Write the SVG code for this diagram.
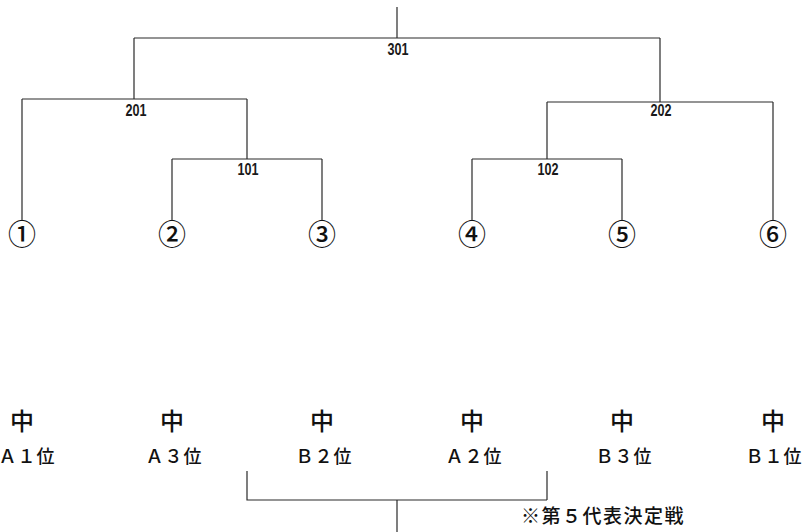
<svg xmlns="http://www.w3.org/2000/svg" width="805" height="532" viewBox="0 0 805 532">
<style>
.ln{stroke:#2a2a2a;stroke-width:1.2;fill:none}
.num{font-family:"Liberation Sans",Arial,sans-serif;font-size:16px;font-weight:bold;fill:#1a1a1a;text-anchor:middle}
.circ{font-family:"Noto Sans CJK JP",sans-serif;font-size:28px;font-weight:500;fill:#111;text-anchor:middle}
.naka{font-family:"Noto Sans CJK JP",sans-serif;font-size:24px;font-weight:500;fill:#111;text-anchor:middle}
.lab{font-family:"Noto Sans CJK JP",sans-serif;font-size:18px;font-weight:500;fill:#111;text-anchor:middle;letter-spacing:1px}
.note{font-family:"Noto Sans CJK JP",sans-serif;font-size:19px;font-weight:500;fill:#111;letter-spacing:1.5px}
</style>
<rect width="805" height="532" fill="#ffffff"/>
<g id="connectors">
<path class="ln" d="M397,7V38M134,38H660M134,38V99M660,38V102"/>
<path class="ln" d="M22,99H247M22,99V221M247,99V159"/>
<path class="ln" d="M547,102H773M773,102V221M547,102V159"/>
<path class="ln" d="M172,159H322M172,159V221M322,159V221"/>
<path class="ln" d="M472,159H622M472,159V221M622,159V221"/>
<path class="ln" d="M247,471V500H547M547,471V500M397,500V532"/>
</g>
<g id="match-301"><text class="num" x="398" y="55" textLength="21" lengthAdjust="spacingAndGlyphs">301</text></g>
<g id="match-201"><text class="num" x="136" y="116" textLength="21" lengthAdjust="spacingAndGlyphs">201</text></g>
<g id="match-202"><text class="num" x="661" y="116" textLength="21" lengthAdjust="spacingAndGlyphs">202</text></g>
<g id="match-101"><text class="num" x="248" y="175" textLength="21" lengthAdjust="spacingAndGlyphs">101</text></g>
<g id="match-102"><text class="num" x="548" y="175" textLength="21" lengthAdjust="spacingAndGlyphs">102</text></g>
<g id="seed-1"><text class="circ" x="22" y="245">①</text><text class="naka" x="22" y="430">中</text><text class="lab" x="27" y="463">Ａ１位</text></g>
<g id="seed-2"><text class="circ" x="172" y="245">②</text><text class="naka" x="172" y="430">中</text><text class="lab" x="174" y="463">Ａ３位</text></g>
<g id="seed-3"><text class="circ" x="322" y="245">③</text><text class="naka" x="322" y="430">中</text><text class="lab" x="324" y="463">Ｂ２位</text></g>
<g id="seed-4"><text class="circ" x="472" y="245">④</text><text class="naka" x="472" y="430">中</text><text class="lab" x="474" y="463">Ａ２位</text></g>
<g id="seed-5"><text class="circ" x="622" y="245">⑤</text><text class="naka" x="622" y="430">中</text><text class="lab" x="624" y="463">Ｂ３位</text></g>
<g id="seed-6"><text class="circ" x="773" y="245">⑥</text><text class="naka" x="773" y="430">中</text><text class="lab" x="774" y="463">Ｂ１位</text></g>
<g id="note"><text class="note" x="521" y="523">※第５代表決定戦</text></g>
</svg>
